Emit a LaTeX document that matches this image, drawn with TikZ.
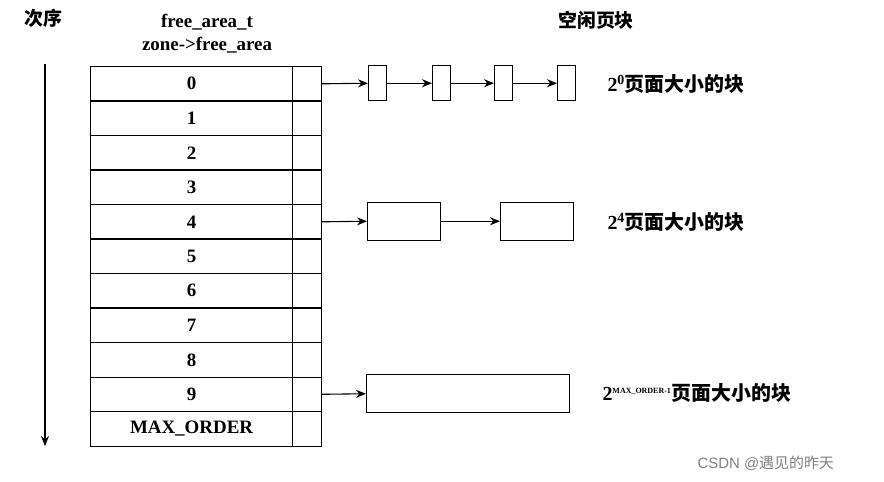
\documentclass[tikz,border=0pt]{standalone}
\usepackage{fontspec}
\setmainfont{Liberation Serif}
\newfontfamily\cjk{Noto Sans CJK SC}
\newfontfamily\wm{Liberation Sans}
\usetikzlibrary{arrows.meta}
\begin{document}
\begin{tikzpicture}[x=1bp,y=-1bp,
  cell/.style={draw,line width=1.1bp,minimum width=202bp,minimum height=34.5bp,anchor=north west,inner sep=0pt,font=\fontsize{19}{21}\selectfont\bfseries},
  side/.style={draw,line width=1.1bp,minimum width=29bp,minimum height=34.5bp,anchor=north west,inner sep=0pt},
  blk/.style={draw,line width=1.1bp,anchor=west,inner sep=0pt},
  arr/.style={-{Stealth[length=10bp,width=8bp]},line width=1.1bp},
  lab/.style={anchor=west,font=\fontsize{20}{22}\selectfont\bfseries},
  ch/.style={font=\cjk\bfseries\fontsize{19}{21}\selectfont}]
\useasboundingbox (0,0) rectangle (884,482);
\node[ch] (ord) at (43,18) {次序};
\node[font=\fontsize{19}{21}\selectfont\bfseries] (h1) at (207,22) {free\_area\_t};
\node[font=\fontsize{19}{21}\selectfont\bfseries] (h2) at (207,45) {zone->free\_area};
\node[ch] (kx) at (596,20) {空闲页块};
\coordinate (at) at (45,64);
\coordinate (ab) at (45,446);
\draw[arr] (at) -- (ab);
\foreach \t [count=\i from 0] in {0,1,2,3,4,5,6,7,8,9,MAX\_ORDER}{
  \node[cell] (c\i) at (90,66+34.5*\i) {\t};
  \node[side] (s\i) at (292,66+34.5*\i) {};
}
% row 0
\foreach \x [count=\k] in {368,432,494,557}{
  \node[blk,minimum width=18bp,minimum height=35bp] (a\k) at (\x,83.25) {};
}
\draw[arr] (s0.east) -- (a1.west);
\draw[arr] (a1.east) -- (a2.west);
\draw[arr] (a2.east) -- (a3.west);
\draw[arr] (a3.east) -- (a4.west);
% row 4
\node[blk,minimum width=73bp,minimum height=38bp] (b1) at (367,221.25) {};
\node[blk,minimum width=73bp,minimum height=38bp] (b2) at (500,221.25) {};
\draw[arr] (s4.east) -- (b1.west);
\draw[arr] (b1.east) -- (b2.west);
% row 9
\node[blk,minimum width=203bp,minimum height=38bp] (m1) at (366,393.75) {};
\draw[arr] (s9.east) -- (m1.west);
\node[lab] (l0) at (604,84) {2\textsuperscript{0}{\cjk 页面大小的块}};
\node[lab] (l4) at (604,222) {2\textsuperscript{4}{\cjk 页面大小的块}};
\node[lab] (l9) at (599,393) {2\textsuperscript{\fontsize{8}{9}\selectfont MAX\_ORDER-1}{\cjk 页面大小的块}};
\node[font=\fontsize{15}{17}\selectfont,text=gray,anchor=west] (wm) at (694,463) {\wm CSDN @{\cjk 遇见的昨天}};
\end{tikzpicture}
\end{document}
